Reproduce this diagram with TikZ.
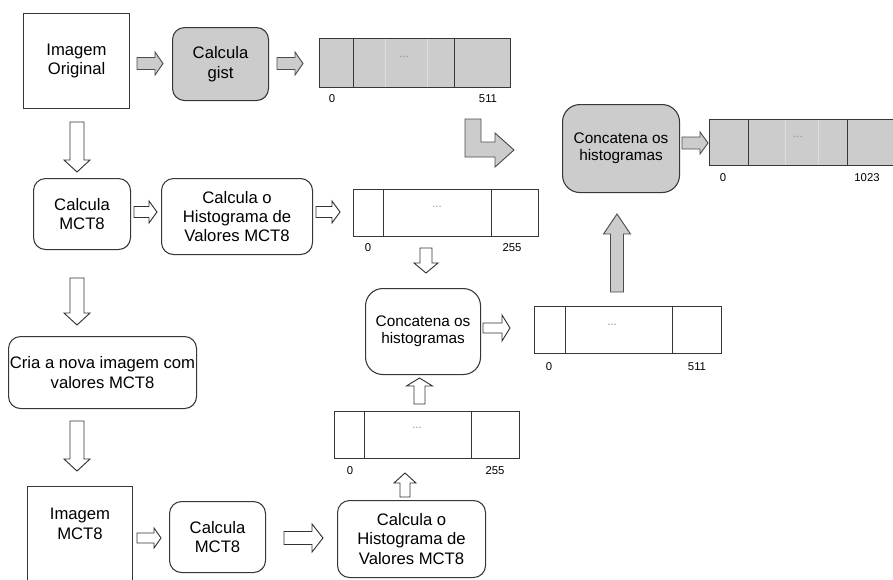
\documentclass[tikz,border=0pt]{standalone}
\usepackage{fontspec}
\setmainfont{Liberation Sans}
\definecolor{boxgray}{RGB}{204,204,204}
\definecolor{cellline}{RGB}{221,221,221}
\definecolor{edge}{RGB}{55,55,55}
\newcommand\bodyfs{\fontsize{12.5}{14.6}\selectfont}
\newcommand\catfs{\fontsize{11.5}{13}\selectfont}
\newcommand\idxfs{\fontsize{8.5}{10}\selectfont}
\tikzset{
  sizew/.style={minimum width=#1*0.75pt},
  sizeh/.style={minimum height=#1*0.75pt},
  plain/.style={draw=edge, line width=0.8pt, fill=white, inner sep=0pt,
    align=center, font=\bodyfs, anchor=north west},
  roundbox/.style={plain, rounded corners=9pt},
  catbox/.style={plain, rounded corners=13pt, font=\catfs},
  shaded/.style={fill=boxgray},
  arr/.style={draw=edge, line width=0.75pt, fill=white, inner sep=0pt, anchor=north west},
  divider/.style={draw=edge, line width=0.7pt},
  faint/.style={draw=cellline, line width=0.6pt},
  idx/.style={font=\idxfs, inner sep=0pt},
  dots/.style={font=\idxfs, text=black!45, inner sep=0pt},
  hollow/.style={draw=black!80, fill=white, line width=0.7pt, line join=miter},
  solid/.style={draw=black!70, fill=boxgray, line width=0.7pt, line join=miter}
}
% block arrow: style, tail x, tail y, angle, length, shaft width, head width, head length
\newcommand\blockarrow[8]{%
  \begin{scope}[shift={(#2,#3)}, rotate=#4]
    \draw[#1] (0,-#6/2) -- (#5-#8,-#6/2) -- (#5-#8,-#7/2) -- (#5,0)
      -- (#5-#8,#7/2) -- (#5-#8,#6/2) -- (0,#6/2) -- cycle;
  \end{scope}}
\begin{document}
\begin{tikzpicture}[x=0.75pt,y=-0.75pt]
\useasboundingbox (0,0) rectangle (893,579);

% ---- top row: gist descriptor ----
\node[plain, sizew=106, sizeh=95] (orig) at (23,13) {Imagem\\Original};
\node[roundbox, shaded, sizew=96, sizeh=73] (gist) at (172,27) {Calcula\\gist};
\node[arr, fill=boxgray, sizew=191, sizeh=49] (arrA) at (319,38) {};
\draw[faint] (385,38.5) -- (385,86.5) (427,38.5) -- (427,86.5);
\draw[divider] (353,38) -- (353,87) (454,38) -- (454,87);
\node[dots] (dotsA) at (404,57) {...};
\node[idx] (a0) at (332,99) {0};
\node[idx] (a511) at (488,99) {511};
\blockarrow{solid}{137}{63.5}{0}{26}{12}{23}{8}
\blockarrow{solid}{277}{63.5}{0}{26}{12}{23}{8}

% bent arrow into the final concatenation
\draw[solid] (465,119) -- (481,119) -- (481,142) -- (495,142) -- (495,133)
  -- (514,150) -- (495,167) -- (495,157) -- (465,157) -- cycle;

% ---- final concatenation ----
\node[catbox, shaded, sizew=117, sizeh=88] (catA) at (562,104) {Concatena os\\histogramas};
\node[arr, fill=boxgray, sizew=230, sizeh=46] (arrB) at (709,119) {};
\draw[faint] (785,119.5) -- (785,164.5) (818,119.5) -- (818,164.5);
\draw[divider] (748,119) -- (748,165) (847,119) -- (847,165);
\node[dots] (dotsB) at (798,137) {...};
\node[idx] (b0) at (723,178) {0};
\node[idx] (b1023) at (867,178) {1023};
\blockarrow{solid}{682}{143}{0}{26}{12}{22}{8}
\blockarrow{solid}{617}{292}{90}{78}{13}{27}{20}

% ---- MCT8 branch ----
\blockarrow{hollow}{77}{122}{-90}{50}{14}{26}{12}
\node[roundbox, sizew=97, sizeh=71] (mctA) at (33,178) {Calcula\\MCT8};
\blockarrow{hollow}{134}{212}{0}{23}{11}{22}{8}
\node[roundbox, sizew=151, sizeh=76] (histA) at (161,178) {Calcula o\\Histograma de\\Valores MCT8};
\blockarrow{hollow}{316}{212}{0}{24}{11}{22}{8}
\node[arr, sizew=185, sizeh=47] (arrC) at (353,189) {};
\draw[divider] (383,189) -- (383,236) (491,189) -- (491,236);
\node[dots] (dotsC) at (437,207) {...};
\node[idx] (c0) at (368,248) {0};
\node[idx] (c255) at (512,248) {255};
\blockarrow{hollow}{426}{248}{-90}{25}{12}{24}{10}

\node[catbox, sizew=115, sizeh=86] (catB) at (365,288) {Concatena os\\histogramas};
\blockarrow{hollow}{483}{328}{0}{27}{10}{26}{8}
\node[arr, sizew=187, sizeh=47] (arrD) at (534,306) {};
\draw[divider] (565,306) -- (565,353) (672,306) -- (672,353);
\node[dots] (dotsD) at (612,325) {...};
\node[idx] (d0) at (549,367) {0};
\node[idx] (d511) at (697,367) {511};

\blockarrow{hollow}{77}{278}{-90}{47}{14}{26}{12}
\node[roundbox, sizew=188, sizeh=72] (cria) at (8,336) {Cria a nova imagem com\\valores MCT8};
\blockarrow{hollow}{77}{421}{-90}{50}{14}{26}{12}

% ---- second MCT8 pass ----
\node[plain, sizew=105, sizeh=125] (mctimg) at (27,486) {};
\node[align=center, font=\bodyfs, inner sep=0pt] (mcttxt) at (80,524) {Imagem\\MCT8};
\blockarrow{hollow}{137}{538}{0}{24}{10}{20}{7}
\node[roundbox, sizew=96, sizeh=71] (mctB) at (169,501) {Calcula\\MCT8};
\blockarrow{hollow}{284}{538}{0}{39}{13}{28}{11}
\node[roundbox, sizew=148, sizeh=77] (histB) at (337,500) {Calcula o\\Histograma de\\Valores MCT8};
\blockarrow{hollow}{405}{497}{90}{24}{10}{22}{10}
\node[arr, sizew=185, sizeh=47] (arrE) at (334,411) {};
\draw[divider] (364,411) -- (364,458) (471,411) -- (471,458);
\node[dots] (dotsE) at (417,428) {...};
\node[idx] (e0) at (350,471) {0};
\node[idx] (e255) at (495,471) {255};
\blockarrow{hollow}{419.5}{404}{90}{26}{11}{26}{8}
\end{tikzpicture}
\end{document}
